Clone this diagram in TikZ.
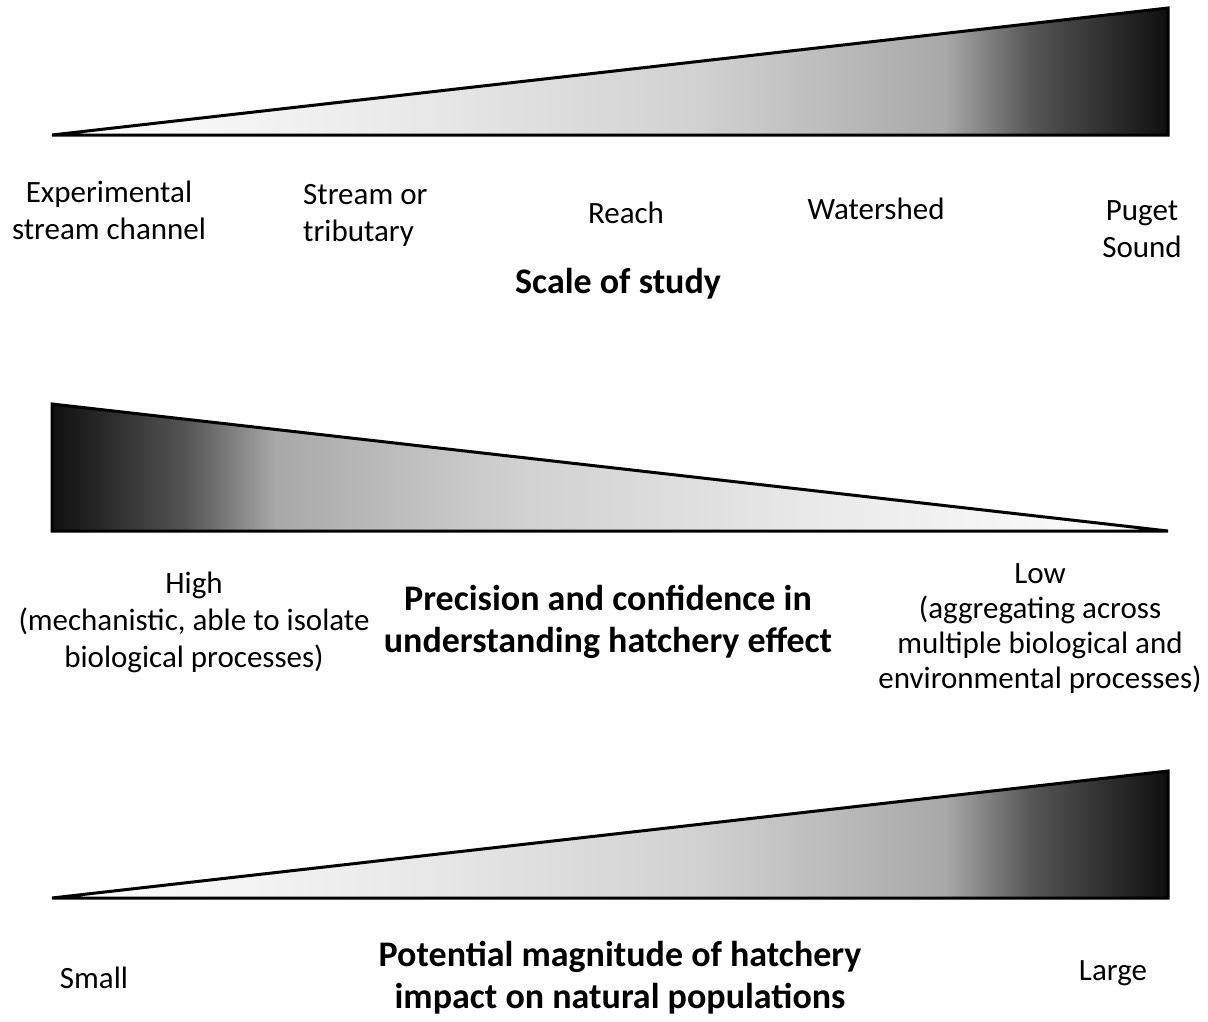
\documentclass[tikz,border=0pt]{standalone}
\usepackage{fontspec}
\setmainfont{Carlito}
\usetikzlibrary{positioning}

\pgfdeclarehorizontalshading{rampshade}{100bp}{color(0bp)=(white); color(25bp)=(white); color(40bp)=(black!8); color(54bp)=(black!18); color(65bp)=(black!34); color(69bp)=(black!67); color(75bp)=(black!94); color(100bp)=(black!94)}

\begin{document}
\begin{tikzpicture}[x=1pt,y=-1pt,
	ramp/.style={draw=black,line width=3pt,shading=rampshade},
	lbl/.style={align=center,font=\fontsize{31}{37}\selectfont,inner sep=0pt,anchor=base},
	heading/.style={align=center,font=\fontsize{36}{42}\selectfont\bfseries,inner sep=0pt,anchor=base}]
	\useasboundingbox (0,0) rectangle (1208,1021);

	% scale of study
	\coordinate (a_1) at (52,135);
	\coordinate (a_2) at (1168,8);
	\coordinate (a_3) at (1168,135);
	\path[ramp] (a_1) -- (a_2) -- (a_3) -- cycle;

	\node[lbl] (exper) at (109,239) {Experimental\\stream channel};
	\node[lbl,anchor=base west,align=left] (stream) at (303,241) {Stream or\\tributary};
	\node[lbl] (reach) at (626,223) {Reach};
	\node[lbl] (wshed) at (876,219) {Watershed};
	\node[lbl] (puget) at (1142,257) {Puget\\Sound};
	\node[heading] (scale) at (618,293) {Scale of study};

	% precision
	\coordinate (b_1) at (52,404);
	\coordinate (b_2) at (52,531);
	\coordinate (b_3) at (1168,531);
	\path[ramp,shading angle=180] (b_1) -- (b_2) -- (b_3) -- cycle;

	\node[lbl] (high) at (194,667) {High\\(mechanistic, able to isolate\\biological processes)};
	\node[heading] (prec) at (608,652) {Precision and confidence in\\understanding hatchery effect};
	\node[lbl,font=\fontsize{31}{35}\selectfont] (low) at (1040,688) {Low\\(aggregating across\\multiple biological and\\environmental processes)};

	% magnitude
	\coordinate (c_1) at (52,898);
	\coordinate (c_2) at (1168,771);
	\coordinate (c_3) at (1168,898);
	\path[ramp] (c_1) -- (c_2) -- (c_3) -- cycle;

	\node[lbl] (small) at (94,988) {Small};
	\node[heading] (magn) at (620,1008) {Potential magnitude of hatchery\\impact on natural populations};
	\node[lbl] (large) at (1113,980) {Large};

\end{tikzpicture}
\end{document}
